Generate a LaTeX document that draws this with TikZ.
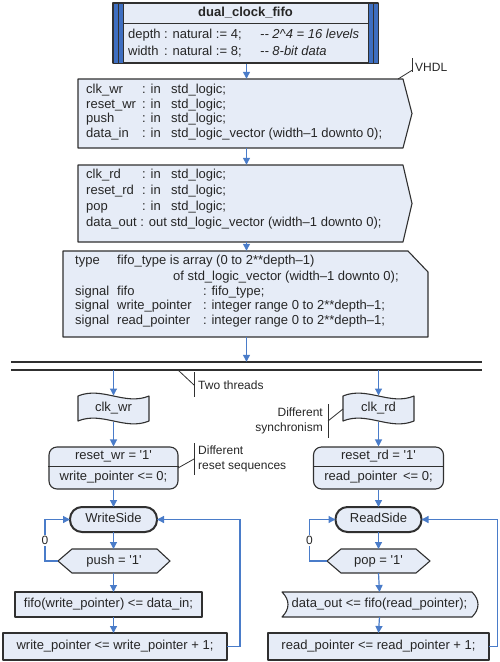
\documentclass[tikz,border=0pt]{standalone}
\usepackage{fontspec}
\setmainfont{Liberation Sans}
\usetikzlibrary{arrows.meta}
\definecolor{boxfill}{HTML}{E6ECF7}
\definecolor{edgecol}{HTML}{303030}
\definecolor{flowcol}{HTML}{4A7CC9}
\definecolor{barcol}{HTML}{3E6EC0}
\definecolor{txtcol}{HTML}{262626}
\newcommand{\sq}{\textquotesingle}
\begin{document}
\begin{tikzpicture}[x=1pt,y=-1pt,
  shapebox/.style={draw=edgecol, fill=boxfill, line width=1.1pt, line join=round},
  ghost/.style={inner sep=0pt, outer sep=0pt, text=txtcol, font=\fontsize{13}{15}\selectfont, text height=9.4pt, text depth=2.8pt},
  ln/.style={anchor=base west, inner sep=0pt, text=txtcol, font=\fontsize{13}{15}\selectfont},
  flow/.style={draw=flowcol, line width=1.2pt, -{Triangle[length=7pt,width=7pt]}},
  note/.style={draw=edgecol, line width=0.8pt},
  notetxt/.style={inner sep=0pt, text=txtcol, font=\fontsize{12}{14}\selectfont, text height=8.6pt, text depth=2.5pt},
  zero/.style={fill=white, inner sep=1pt, text=txtcol, font=\fontsize{12}{14}\selectfont}
]
\useasboundingbox (0,0) rectangle (500,662);

% ---- entity box ----
\node[shapebox, minimum width=265pt, minimum height=60pt, inner sep=0pt] (ent) at (245.5,33) {};
\draw[draw=edgecol, fill=barcol, line width=0.9pt] (113,3) rectangle (123,63);
\draw[edgecol, line width=0.9pt] (118,3) -- (118,63);
\draw[draw=edgecol, fill=barcol, line width=0.9pt] (368,3) rectangle (378,63);
\draw[edgecol, line width=0.9pt] (373,3) -- (373,63);
\draw[edgecol, line width=1pt] (123,23) -- (368,23);
\node[ghost, font=\bfseries\fontsize{13}{15}\selectfont] (title) at (245.5,13) {dual\_clock\_fifo};
\node[ln] (gen1) at (128,38) {\makebox[132pt][l]{\makebox[36pt][l]{depth}: natural := 4;}{\itshape -{}- 2\textasciicircum4 = 16 levels}};
\node[ln] (gen2) at (128,55) {\makebox[132pt][l]{\makebox[36pt][l]{width}: natural := 8;}{\itshape -{}- 8-bit data}};

% ---- input port box ----
\path[shapebox] (78,79) -- (403,79) -- (412,113.5) -- (403,148) -- (78,148) -- cycle;
\node[inner sep=0pt, minimum width=334pt, minimum height=69pt] (pin) at (246.5,113.5) {};
\node[ln] (pa) at (86,93.5) {\makebox[56pt][l]{clk\_wr}\makebox[29pt][l]{: in}std\_logic;};
\node[ln] (pb) at (86,108) {\makebox[56pt][l]{reset\_wr}\makebox[29pt][l]{: in}std\_logic;};
\node[ln] (pc) at (86,122.5) {\makebox[56pt][l]{push}\makebox[29pt][l]{: in}std\_logic;};
\node[ln] (pd) at (86,137) {\makebox[56pt][l]{data\_in}\makebox[29pt][l]{: in}std\_logic\_vector (width–1 downto 0);};

% ---- output port box ----
\path[shapebox] (78,165) -- (403,165) -- (412,203.5) -- (403,242) -- (78,242) -- cycle;
\node[inner sep=0pt, minimum width=334pt, minimum height=77pt] (pout) at (246.5,203.5) {};
\node[ln] (qa) at (86,178.5) {\makebox[56pt][l]{clk\_rd}\makebox[29pt][l]{: in}std\_logic;};
\node[ln] (qb) at (86,194) {\makebox[56pt][l]{reset\_rd}\makebox[29pt][l]{: in}std\_logic;};
\node[ln] (qc) at (86,210) {\makebox[56pt][l]{pop}\makebox[29pt][l]{: in}std\_logic;};
\node[ln] (qd) at (86,226) {data\_out : out std\_logic\_vector (width–1 downto 0);};

% ---- signals box ----
\path[shapebox] (63,251) -- (408,251) -- (428,272) -- (428,337) -- (63,337) -- cycle;
\node[inner sep=0pt, minimum width=365pt, minimum height=86pt] (sig) at (246.5,294) {};
\node[ln] (sa) at (75,264) {\makebox[42pt][l]{type}fifo\_type is array (0 to 2**depth–1)};
\node[ln] (sb) at (173,280) {of std\_logic\_vector (width–1 downto 0);};
\node[ln] (sc) at (75,295) {\makebox[42pt][l]{signal}\makebox[86pt][l]{fifo}: fifo\_type;};
\node[ln] (sd) at (75,309.5) {\makebox[42pt][l]{signal}\makebox[86pt][l]{write\_pointer}: integer range 0 to 2**depth–1;};
\node[ln] (se) at (75,324.5) {\makebox[42pt][l]{signal}\makebox[86pt][l]{read\_pointer}: integer range 0 to 2**depth–1;};

% ---- fork bars ----
\draw[edgecol, line width=1.5pt] (11,362) -- (482,362);
\draw[edgecol, line width=1.5pt] (11,370) -- (482,370);
\node[inner sep=0pt, minimum width=471pt, minimum height=8pt] (fork) at (246.5,366) {};

% ---- tape shapes ----
\path[shapebox] (78,396) .. controls (102,386) and (125,406) .. (149,396) -- (149,421) .. controls (125,431) and (102,411) .. (78,421) -- cycle;
\node[ghost, minimum width=71pt, minimum height=26pt] (clkw) at (113.5,408.5) {clk\_wr};
\path[shapebox] (343,396) .. controls (367,386) and (390,406) .. (414,396) -- (414,421) .. controls (390,431) and (367,411) .. (343,421) -- cycle;
\node[ghost, minimum width=71pt, minimum height=26pt] (clkr) at (378.5,408.5) {clk\_rd};

% ---- reset boxes ----
\node[shapebox, rounded corners=8pt, minimum width=129pt, minimum height=42pt, inner sep=0pt] (rstw) at (113.5,468) {};
\draw[edgecol, line width=1pt] ([yshift=2pt]rstw.west) -- ([yshift=2pt]rstw.east);
\node[ghost] (rstwa) at (113.5,456.5) {reset\_wr = \sq1\sq};
\node[ghost] (rstwb) at (113.5,477.5) {write\_pointer <= 0;};
\node[shapebox, rounded corners=8pt, minimum width=130pt, minimum height=42pt, inner sep=0pt] (rstr) at (378.5,468) {};
\draw[edgecol, line width=1pt] ([yshift=2pt]rstr.west) -- ([yshift=2pt]rstr.east);
\node[ghost] (rstra) at (378.5,456.5) {reset\_rd = \sq1\sq};
\node[ghost] (rstrb) at (378.5,477.5) {read\_pointer\, <= 0;};

% ---- terminators ----
\node[shapebox, ghost, draw=edgecol, fill=boxfill, line width=2pt, rounded corners=12pt, minimum width=87pt, minimum height=25pt] (wside) at (113.5,519.5) {WriteSide};
\node[shapebox, ghost, draw=edgecol, fill=boxfill, line width=2pt, rounded corners=12pt, minimum width=86pt, minimum height=25pt] (rside) at (378.5,519.5) {ReadSide};

% ---- decisions ----
\path[shapebox] (58,561) -- (72,549) -- (157,549) -- (170,561) -- (157,573) -- (72,573) -- cycle;
\node[ghost, minimum width=112pt, minimum height=24pt] (push) at (114,561) {push = \sq1\sq};
\path[shapebox] (327,561) -- (341,549) -- (416,549) -- (430,561) -- (416,573) -- (341,573) -- cycle;
\node[ghost, minimum width=103pt, minimum height=24pt] (pop) at (378.5,561) {pop = \sq1\sq};

% ---- actions ----
\node[shapebox, ghost, draw=edgecol, fill=boxfill, minimum width=187pt, minimum height=25pt] (fifow) at (108.5,604.5) {fifo(write\_pointer) <= data\_in;};
\node[shapebox, ghost, draw=edgecol, fill=boxfill, minimum width=224pt, minimum height=27pt] (wpp) at (115,646.5) {write\_pointer <= write\_pointer + 1;};
\path[shapebox] (282,592) -- (472,592) .. controls (480,600) and (480,609) .. (472,617) -- (282,617) .. controls (290,609) and (290,600) .. (282,592) -- cycle;
\node[ghost, minimum width=195pt, minimum height=25pt] (dout) at (379.5,604.5) {data\_out <= fifo(read\_pointer);};
\node[shapebox, ghost, draw=edgecol, fill=boxfill, minimum width=221pt, minimum height=27pt] (rpp) at (378.5,646.5) {read\_pointer <= read\_pointer + 1;};

% ---- connectors ----
\draw[flow] (ent.south -| pin.north) -- (pin.north);
\draw[flow] (pin.south) -- (pout.north);
\draw[flow] (pout.south) -- (sig.north);
\draw[flow] (sig.south) -- (sig.south |- fork.north);
\draw[flow] (clkw.north |- fork.south) -- (clkw.north);
\draw[flow] (clkr.north |- fork.south) -- (clkr.north);
\draw[flow] (clkw.south) -- (rstw.north);
\draw[flow] (clkr.south) -- (rstr.north);
\draw[flow] (rstw.south) -- (wside.north);
\draw[flow] (rstr.south) -- (rside.north);
\draw[flow] (wside.south) -- (wside.south |- push.north);
\draw[flow] (rside.south) -- (pop.north);
\draw[flow] (wside.south |- push.south) -- (wside.south |- fifow.north);
\draw[flow] (pop.south) -- (dout.north);
\draw[flow] (wside.south |- fifow.south) -- (wside.south |- wpp.north);
\draw[flow] (dout.south) -- (rpp.north);
\draw[flow] (push.west) -| ([xshift=-25pt]wside.west) node[pos=0.75, zero] (z1) {0} -- (wside.west);
\draw[flow] (pop.west) -| ([xshift=-26pt]rside.west) node[pos=0.75, zero] (z2) {0} -- (rside.west);
\draw[flow] (wpp.east) -| ([xshift=83pt]wside.east) -- (wside.east);
\draw[flow] (rpp.east) -| ([xshift=76pt]rside.east) -- (rside.east);

% ---- annotations ----
\draw[note] (398,79) -- (412.5,70);
\draw[note] (412.5,58) -- (412.5,72);
\node[notetxt, anchor=west] (vhdl) at (415,68) {VHDL};
\draw[note] (178,370) -- (194,385);
\draw[note] (194,372) -- (194,397);
\node[notetxt, anchor=west] (two) at (198,386) {Two threads};
\draw[note] (328,421) -- (343,409);
\draw[note] (328,404) -- (328,438);
\node[notetxt, anchor=east] (diffa) at (323,413) {Different};
\node[notetxt, anchor=east] (diffb) at (323,428) {synchronism};
\draw[note] (178,468) -- (194,459);
\draw[note] (194,443) -- (194,475);
\node[notetxt, anchor=west] (rsta) at (198,451) {Different};
\node[notetxt, anchor=west] (rstb) at (198,466) {reset sequences};
\end{tikzpicture}
\end{document}
